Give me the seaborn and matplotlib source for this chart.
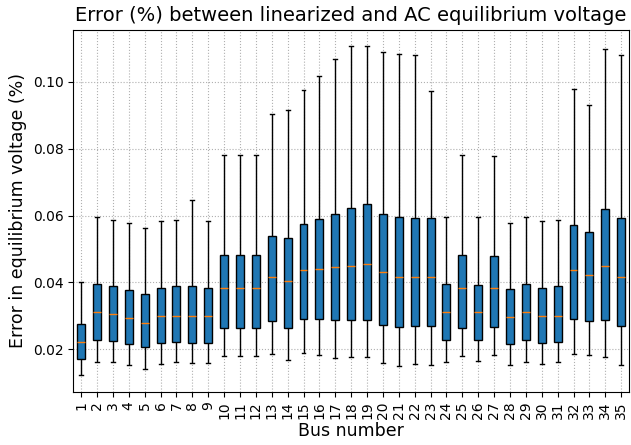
import pandas as pd
import numpy as np
import seaborn as sns
import matplotlib.pyplot as plt

# Box statistics per bus (whisker low, Q1, median, Q3, whisker high)
buses = [str(i) for i in range(1, 36)]
low = [0.0122, 0.0161, 0.0161, 0.0151, 0.0140, 0.0154, 0.0160, 0.0157, 0.0157, 0.0180,
       0.0180, 0.0180, 0.0186, 0.0166, 0.0189, 0.0183, 0.0173, 0.0177, 0.0177, 0.0157,
       0.0148, 0.0154, 0.0151, 0.0161, 0.0180, 0.0163, 0.0183, 0.0151, 0.0160, 0.0154,
       0.0160, 0.0186, 0.0183, 0.0177, 0.0151]
q1 = [0.0171, 0.0226, 0.0223, 0.0214, 0.0206, 0.0218, 0.0220, 0.0218, 0.0218, 0.0263,
      0.0263, 0.0263, 0.0283, 0.0263, 0.0290, 0.0290, 0.0286, 0.0286, 0.0286, 0.0272,
      0.0266, 0.0269, 0.0269, 0.0226, 0.0263, 0.0226, 0.0266, 0.0214, 0.0226, 0.0218,
      0.0220, 0.0290, 0.0283, 0.0286, 0.0269]
med = [0.0221, 0.0312, 0.0304, 0.0292, 0.0278, 0.0298, 0.0298, 0.0298, 0.0298, 0.0384,
       0.0384, 0.0384, 0.0417, 0.0404, 0.0436, 0.0441, 0.0445, 0.0450, 0.0456, 0.0430,
       0.0416, 0.0416, 0.0416, 0.0312, 0.0384, 0.0312, 0.0384, 0.0295, 0.0312, 0.0298,
       0.0298, 0.0436, 0.0421, 0.0450, 0.0416]
q3 = [0.0275, 0.0394, 0.0389, 0.0377, 0.0364, 0.0383, 0.0389, 0.0389, 0.0383, 0.0481,
      0.0481, 0.0481, 0.0539, 0.0534, 0.0574, 0.0591, 0.0606, 0.0623, 0.0634, 0.0606,
      0.0597, 0.0594, 0.0594, 0.0395, 0.0481, 0.0392, 0.0478, 0.0380, 0.0395, 0.0383,
      0.0389, 0.0573, 0.0550, 0.0620, 0.0594]
high = [0.0400, 0.0595, 0.0588, 0.0578, 0.0563, 0.0583, 0.0586, 0.0646, 0.0583, 0.0781,
        0.0781, 0.0781, 0.0903, 0.0915, 0.0977, 0.1019, 0.1069, 0.1107, 0.1107, 0.1089,
        0.1084, 0.1082, 0.0974, 0.0595, 0.0781, 0.0595, 0.0778, 0.0578, 0.0595, 0.0583,
        0.0586, 0.0979, 0.0930, 0.1098, 0.1082]

# long table: five values per bus give exactly these quartiles with whis=(0, 100)
rows = []
for b, a, c, d, e, f in zip(buses, low, q1, med, q3, high):
    for v in (a, c, d, e, f):
        rows.append((b, v))
data = pd.DataFrame(rows, columns=["bus", "err"])

fig, ax = plt.subplots(figsize=(6.31, 4.45), dpi=100)
sns.boxplot(data=data, x="bus", y="err", order=buses, whis=(0, 100),
            width=0.5, color="#1f77b4", saturation=1, linecolor="black",
            linewidth=1, medianprops=dict(color="#ff7f0e"), ax=ax)

ax.grid(True, linestyle=":", color="#b0b0b0", linewidth=0.8)
ax.set_axisbelow(True)
ax.set_xlim(-0.5, len(buses) - 0.5)
ax.tick_params(axis="x", labelrotation=90)
ax.set_title("Error (%) between linearized and AC equilibrium voltage", fontsize=14)
ax.set_xlabel("Bus number", fontsize=12.5, labelpad=2)
ax.set_ylabel("Error in equilibrium voltage (%)", fontsize=12.5)

plt.subplots_adjust(left=0.116, right=0.997, top=0.933, bottom=0.12)
plt.savefig("out.png")
